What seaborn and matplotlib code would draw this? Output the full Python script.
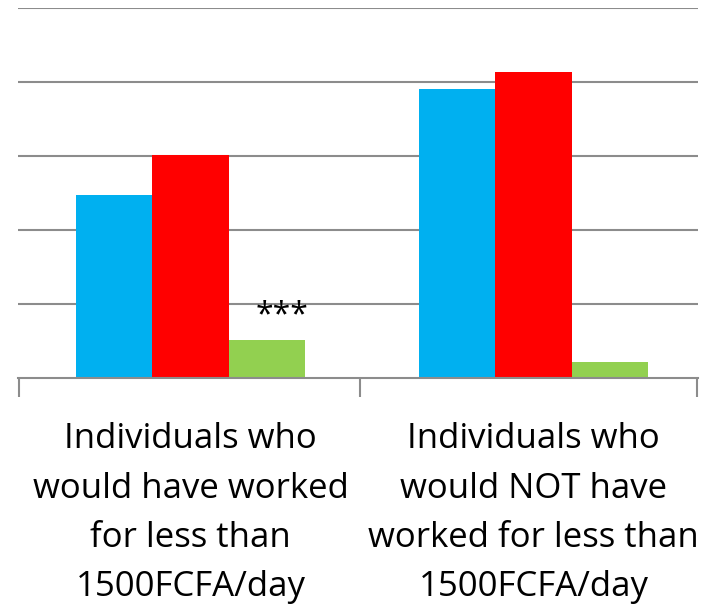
import pandas as pd
import matplotlib
matplotlib.use("Agg")
import matplotlib.pyplot as plt
import seaborn as sns

# ============================
# DADOS
# ============================
categories = ["Individuals who\nwould have worked\nfor less than\n1500FCFA/day",
              "Individuals who\nwould NOT have\nworked for less than\n1500FCFA/day"]
series = ["Series 1", "Series 2", "Series 3"]
values_s1 = [2.47, 3.91]
values_s2 = [3.01, 4.14]
values_s3 = [0.51, 0.22]
colors = ["#00B0F0", "#FF0000", "#92D050"]

rows = []
for i, cat in enumerate(categories):
    for s, vals in zip(series, [values_s1, values_s2, values_s3]):
        rows.append({"cat": cat, "serie": s, "valor": vals[i]})
df = pd.DataFrame(rows)

# ============================
# GRAFICO
# ============================
sns.set_style("white")
plt.rcParams["font.family"] = ["Open Sans", "DejaVu Sans"]

fig = plt.figure(figsize=(7.17, 6.04), dpi=100)
ax = fig.add_axes([0.0251, 0.3742, 0.9484, 0.6126])

for y in [1, 2, 3, 4, 5]:
    ax.axhline(y, color="#8c8c8c", lw=1.5, zorder=0)

sns.barplot(data=df, x="cat", y="valor", hue="serie", palette=colors,
            width=0.67, gap=0, legend=False, ax=ax, saturation=1,
            linewidth=0, edgecolor="none", zorder=2)

ax.set_ylim(0, 5)
ax.set_xlim(-0.503, 1.48)
ax.set_xlabel("")
ax.set_ylabel("")
ax.set_yticks([])
sns.despine(ax=ax, left=True, top=True, right=True)
ax.spines["bottom"].set_color("#8c8c8c")
ax.spines["bottom"].set_linewidth(1.5)

ax.tick_params(axis="x", which="major", length=0, pad=32, labelsize=25, labelcolor="black")
ax.set_xticks([-0.5, 0.494, 1.478], minor=True)
ax.tick_params(axis="x", which="minor", bottom=True, length=14, width=1.5,
               color="#8c8c8c", direction="out")
for lab in ax.get_xticklabels():
    lab.set_linespacing(1.59)

# significancia na barra verde da esquerda
green_left = ax.patches[4]
ax.text(green_left.get_x() + green_left.get_width() / 2 + 0.044, values_s3[0] + 0.11, "***",
        ha="center", va="bottom", fontsize=23, color="black")

fig.savefig("out.png", dpi=100)
